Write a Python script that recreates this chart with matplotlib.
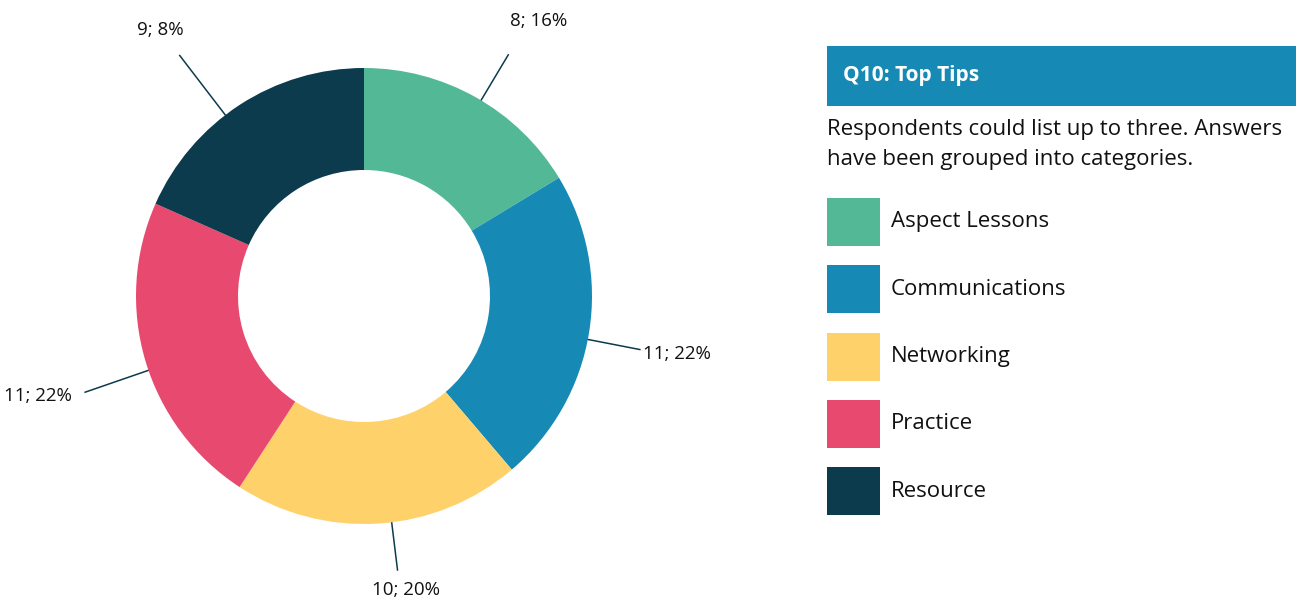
import numpy as np
import matplotlib.pyplot as plt

categories = ["Aspect Lessons", "Communications", "Networking", "Practice", "Resource"]
counts = [8, 11, 10, 11, 9]
labels = ["8; 16%", "11; 22%", "10; 20%", "11; 22%", "9; 8%"]
colors = ["#52B895", "#168AB5", "#FFD16A", "#E84A6F", "#0B3B4D"]

title = "Q10: Top Tips"
note = "Respondents could list up to three. Answers\nhave been grouped into categories."

# leader line tweaks (degrees off the wedge middle, extra length in px)
lead_turn = [-1.5, -1.8, 3.3, 2.5, 4.4]
lead_len = [53, 53, 48, 67, 75]

W, H = 1296, 601
plt.rcParams['font.family'] = ['Open Sans', 'DejaVu Sans']

fig = plt.figure(figsize=(W / 100, H / 100), dpi=100)
ax = fig.add_axes([0, 0, 1, 1])

# pixel-like coords, y measured from the bottom
cx, cy, R = 364, H - 296, 228
wedges, _ = ax.pie(counts, colors=colors, radius=R, center=(cx, cy),
                   startangle=90, counterclock=False,
                   wedgeprops=dict(width=102, linewidth=0))

line_col = "#0B3B4D"
txt_col = "#111111"
for w, lab, turn, ln in zip(wedges, labels, lead_turn, lead_len):
    ang = np.radians((w.theta1 + w.theta2) / 2 + turn)
    c, s = np.cos(ang), np.sin(ang)
    x0, y0 = cx + (R - 8) * c, cy + (R - 8) * s
    x1, y1 = cx + (R + ln) * c, cy + (R + ln) * s
    ax.plot([x0, x1], [y0, y1], color=line_col, lw=1.1, zorder=0)
    if s > 0.5:
        ha = "left" if c > 0 else "right"
        tx, ty = (x1 + 2, y1 + 34) if c > 0 else (x1 + 4, y1 + 25)
    elif s < -0.5:
        ha, tx, ty = "center", x1 + 8, y1 - 20
    else:
        ha = "left" if c > 0 else "right"
        tx, ty = x1 + (3 if c > 0 else -13), y1 - 4
    ax.text(tx, ty, lab, ha=ha, va="center", fontsize=13.5, color=txt_col)

# header box
ax.add_patch(plt.Rectangle((827, H - 106), W - 827, 60, color="#168AB5", lw=0))
ax.text(843, H - 76, title, ha="left", va="center", fontsize=15,
        fontweight="bold", color="white")
ax.text(827, H - 130, note.split("\n")[0], ha="left", va="center",
        fontsize=16, color=txt_col)
ax.text(827, H - 159, note.split("\n")[1], ha="left", va="center",
        fontsize=16, color=txt_col)

# legend squares
for i, (cat, col) in enumerate(zip(categories, colors)):
    top = 198 + i * 67.3
    ax.add_patch(plt.Rectangle((827, H - top - 48), 53, 48, color=col, lw=0))
    ax.text(891, H - top - 24, cat, ha="left", va="center", fontsize=16,
            color=txt_col)

ax.set_xlim(0, W)
ax.set_ylim(0, H)
ax.set_aspect("auto")
ax.axis("off")

fig.savefig("out.png", dpi=100)
